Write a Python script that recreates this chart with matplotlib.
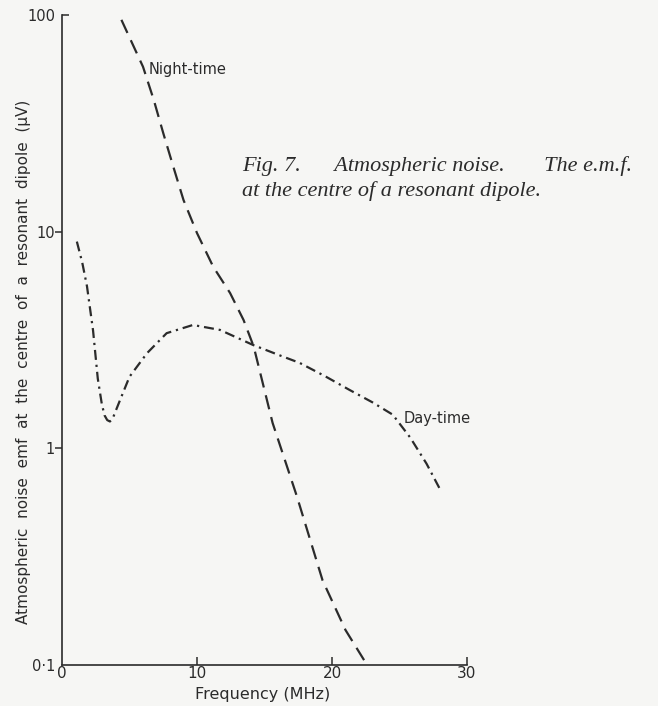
import matplotlib
matplotlib.use('Agg')
import matplotlib.pyplot as plt
import matplotlib.lines as mlines

# (MHz, microvolts)
night_freq = [4.4, 6.0, 6.8, 7.5, 8.25, 9.0, 10.0, 11.2, 12.45, 13.45, 14.2, 15.6, 17.4, 19.3, 21.0, 22.6]
night_emf = [95, 57.7, 40.5, 28.5, 19.9, 14.0, 9.85, 6.89, 5.21, 3.91, 2.95, 1.31, 0.6, 0.246, 0.145, 0.1]

day_freq = [1.1, 1.5, 1.85, 2.3, 2.65, 2.95, 3.15, 3.35, 3.55, 3.75, 4.0, 4.3, 5.0, 6.3, 7.75,
            9.7, 11.7, 14.15, 16.1, 17.6, 19.5, 21.3, 23.0, 24.5, 25.8, 27.0, 28.1]
day_emf = [9.0, 7.2, 5.6, 3.5, 2.1, 1.6, 1.42, 1.35, 1.33, 1.37, 1.5, 1.67, 2.14, 2.75, 3.4,
           3.71, 3.52, 3.0, 2.69, 2.48, 2.15, 1.86, 1.63, 1.43, 1.12, 0.85, 0.63]

x_ticks = [0, 10, 20, 30]
y_ticks = [0.1, 1, 10, 100]
y_tick_labels = ['0·1', '1', '10', '100']

paper = '#f6f6f4'
ink = '#2b2b2b'

plt.rcParams['font.family'] = ['DejaVu Sans']

fig = plt.figure(figsize=(6.58, 7.06), dpi=100, facecolor=paper)
ax = fig.add_axes([62 / 658, 1 - 665 / 706, (467 - 62) / 658, (665 - 15) / 706])
ax.set_facecolor(paper)

ax.plot(night_freq, night_emf, color=ink, lw=1.6, linestyle=(0, (6.5, 3.6)))
ax.plot(day_freq, day_emf, color=ink, lw=1.6, linestyle=(0, (4.5, 2.2, 1.0, 2.2)))

ax.set_yscale('log')
ax.set_xlim(0, 30)
ax.set_ylim(0.1, 100)

for s in ['top', 'right']:
    ax.spines[s].set_visible(False)
for s in ['left', 'bottom']:
    ax.spines[s].set_color(ink)
    ax.spines[s].set_linewidth(1.2)

ax.set_xticks(x_ticks)
ax.set_xticklabels([str(v) for v in x_ticks])
ax.tick_params(axis='x', direction='in', length=6, width=1.1, color=ink,
               labelsize=11, labelcolor=ink, pad=1)
ax.set_yticks(y_ticks)
ax.set_yticklabels(y_tick_labels)
ax.yaxis.set_minor_locator(matplotlib.ticker.NullLocator())
ax.tick_params(axis='y', direction='out', length=5, width=1.1, color=ink,
               labelsize=10.5, labelcolor=ink, pad=0)
ax.xaxis.get_major_ticks()[0].tick1line.set_visible(False)
ax.yaxis.get_major_ticks()[0].tick1line.set_visible(False)
ax.yaxis.get_major_ticks()[-1].tick1line.set_marker(mlines.TICKRIGHT)

ax.text(6.4, 56, 'Night-time', fontsize=10.5, color=ink, va='center', ha='left')
ax.text(25.3, 1.38, 'Day-time', fontsize=10.5, color=ink, va='center', ha='left')

fig.text(242 / 658, 1 - 166 / 706, 'Fig. 7.      Atmospheric noise.       The e.m.f.',
         family='Liberation Serif', style='italic', fontsize=16, color=ink, va='center')
fig.text(242 / 658, 1 - 191 / 706, 'at the centre of a resonant dipole.',
         family='Liberation Serif', style='italic', fontsize=16, color=ink, va='center')

fig.text(263 / 658, 1 - 694 / 706, 'Frequency (MHz)', fontsize=11.5, color=ink,
         ha='center', va='center')
fig.text(24 / 658, 1 - 362 / 706,
         'Atmospheric  noise  emf  at  the  centre  of  a  resonant  dipole  (μV)',
         rotation=90, fontsize=11, color=ink, ha='center', va='center')

fig.savefig('out.png', dpi=100, facecolor=paper)
